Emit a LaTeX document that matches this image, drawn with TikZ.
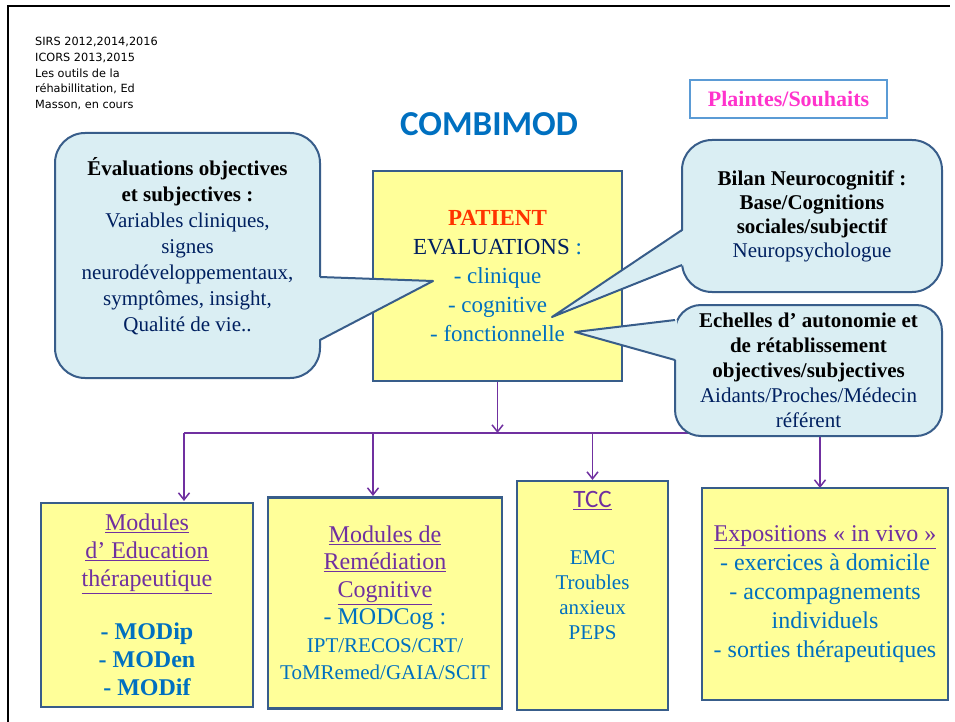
\documentclass[tikz,border=0pt]{standalone}
\usepackage{fontspec}
\setmainfont{Liberation Serif}
\newfontfamily\calibrifont{Carlito}
\newfontfamily\notefont{DejaVu Sans}
\usepackage{tikz}
\usetikzlibrary{arrows.meta}
\usetikzlibrary{positioning}

\definecolor{bubblefill}{HTML}{DAEEF3}
\definecolor{boxline}{HTML}{385D8A}
\definecolor{boxfill}{HTML}{FFFF99}
\definecolor{navy}{HTML}{002060}
\definecolor{officeblue}{HTML}{0070C0}
\definecolor{modpurple}{HTML}{7030A0}
\definecolor{patientred}{HTML}{FF3300}
\definecolor{wishpink}{HTML}{FF33CC}
\definecolor{wishframe}{HTML}{5B9BD5}

\tikzset{x=1pt, y=-1pt,   % one unit = one pixel of the slide, y going down
         bubble/.style={  % speech bubbles round the patient box
           rectangle, rounded corners=30pt,
           draw=boxline, line width=2pt,
           fill=bubblefill, text=navy,
           align=center, inner sep=2pt},
         yellowbox/.style={ % patient box and the four module boxes
           rectangle, draw=boxline, line width=2.2pt,
           fill=boxfill, align=center, inner sep=2pt},
         tailline/.style={draw=boxline, line width=2pt, line join=round},
         notetext/.style={anchor=north west, align=left, inner sep=0pt,
           font=\notefont\fontsize{11.3}{15.8}\selectfont},
         wishbox/.style={draw=wishframe, line width=1.5pt, fill=white,
           text=wishpink, minimum width=197pt, minimum height=38pt,
           font=\bfseries\fontsize{22}{26}\selectfont}}

\begin{document}
\begin{tikzpicture}
\useasboundingbox (0,0) rectangle (955,722);
% slide frame
\draw[line width=2.5pt] (8,722) -- (8,6) -- (950,6);

\node[notetext] (refs) at (35,37) {SIRS 2012,2014,2016\\ICORS 2013,2015\\Les outils de la\\réhabillitation, Ed\\Masson, en cours};
\node[font=\calibrifont\bfseries\fontsize{35}{40}\selectfont, text=officeblue] (title) at (489,124) {COMBIMOD};
\node[wishbox] (wish) at (788.5,99) {Plaintes/Souhaits};

\begin{scope}[every node/.style={yellowbox}]
    \node[minimum width=249pt, minimum height=210pt, font=\fontsize{23}{29}\selectfont] (patient) at (497.5,276)
        {{\bfseries\color{patientred}PATIENT}\\
         {\color{navy}EVALUATIONS} {\color{officeblue}:}\\
         {\color{officeblue}- clinique}\\
         {\color{officeblue}- cognitive}\\
         {\color{officeblue}- fonctionnelle}};
\end{scope}

\coordinate (busL) at (184,433);
\coordinate (busR) at (820,433);
\coordinate (dropRemed) at (373,433);

\begin{scope}[>={Straight Barb[length=7pt,width=11pt]},
              every edge/.style={draw=modpurple, line width=1.5pt}]
    \path [->] (patient.south) edge (patient.south |- busL);
    \path [-] (busL) edge (busR);
    \path [->] (busL) edge (busL |- 0,501);
    \path [->] (dropRemed) edge (dropRemed |- 0,496);
    \path [->] (busL -| 592.5,0) edge (592.5,480);
    \path [->] (busR) edge (busR |- 0,488);
\end{scope}

\begin{scope}[every node/.style={yellowbox}]
    \node[minimum width=212pt, minimum height=204pt, font=\fontsize{24}{28}\selectfont] (educ) at (147,605)
        {\color{modpurple}\underline{Modules}\\
         \color{modpurple}\underline{d’ Education}\\
         \color{modpurple}\underline{thérapeutique}\\[25pt]
         \bfseries\color{officeblue}- MODip\\
         \bfseries\color{officeblue}- MODen\\
         \bfseries\color{officeblue}- MODif};
    \node[minimum width=234pt, minimum height=211pt, font=\fontsize{24}{27.5}\selectfont] (remed) at (385,603)
        {\color{modpurple}\underline{Modules de}\\
         \color{modpurple}\underline{Remédiation}\\
         \color{modpurple}\underline{Cognitive}\\
         \color{officeblue}- MODCog :\\
         \color{officeblue}\fontsize{21}{26}\selectfont IPT/RECOS/CRT/\\
         \color{officeblue}\fontsize{21}{26}\selectfont ToMRemed/GAIA/SCIT};
    \node[minimum width=151pt, minimum height=229pt] (tcc) at (592.5,595.5) {};
    \node[minimum width=246pt, minimum height=212pt, font=\fontsize{24}{29}\selectfont] (expo) at (825,594)
        {\color{modpurple}\underline{Expositions « in vivo »}\\
         \color{officeblue}- exercices à domicile\\
         \color{officeblue}- accompagnements\\
         \color{officeblue}individuels\\
         \color{officeblue}- sorties thérapeutiques};
\end{scope}
\node[anchor=north, align=center, inner sep=0pt, text=officeblue, font=\fontsize{21}{25}\selectfont] (tcctext) at (592.5,491)
    {{\calibrifont\fontsize{25}{28}\selectfont\color{modpurple}\underline{TCC}}\\[32pt]
     EMC\\Troubles\\anxieux\\PEPS};

% speech bubbles
\node[bubble, minimum width=265pt, minimum height=245pt, font=\fontsize{21}{26}\selectfont] (evalobj) at (187.5,255.5)
    {\bfseries\color{black}Évaluations objectives\\
     \bfseries\color{black}et subjectives :\\
     Variables cliniques,\\
     signes\\
     neurodéveloppementaux,\\
     symptômes, insight,\\
     Qualité de vie..\\[-4pt]\mbox{}};
\node[bubble, minimum width=260pt, minimum height=152pt, font=\fontsize{21}{24}\selectfont] (bilan) at (812,216)
    {\bfseries\color{black}Bilan Neurocognitif :\\
     \bfseries\color{black}Base/Cognitions\\
     \bfseries\color{black}sociales/subjectif\\
     Neuropsychologue};
\node[bubble, rounded corners=26pt, minimum width=267pt, minimum height=131pt, font=\fontsize{21}{25}\selectfont] (echelles) at (808.5,370.5)
    {\bfseries\color{black}Echelles d’ autonomie et\\
     \bfseries\color{black}de rétablissement\\
     \bfseries\color{black}objectives/subjectives\\
     Aidants/Proches/Médecin\\
     référent};

\coordinate (tipEval) at (433,281);
\coordinate (tipBilan) at (552,317);
\coordinate (tipEchelles) at (575,332);
\fill[bubblefill] (318,277) -- (tipEval) -- (318,340) -- cycle;
\draw[tailline] (320,277) -- (tipEval) -- (320,340);
\fill[bubblefill] (684,230) -- (tipBilan) -- (684,265) -- cycle;
\draw[tailline] (682,230) -- (tipBilan) -- (682,265);
\fill[bubblefill] (677,320) -- (tipEchelles) -- (677,360) -- cycle;
\draw[tailline] (675,320) -- (tipEchelles) -- (675,360);
\end{tikzpicture}
\end{document}
